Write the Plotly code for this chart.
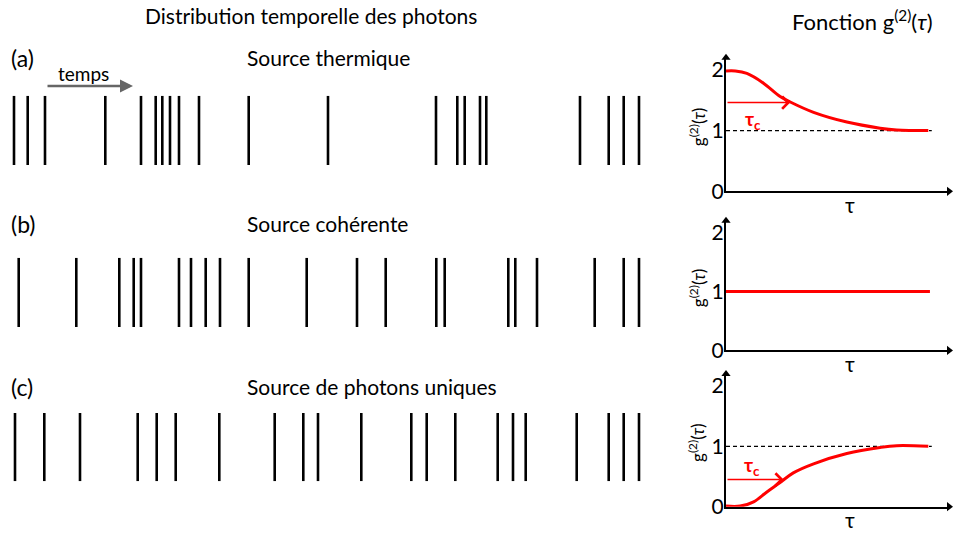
import plotly.graph_objects as go

W, H = 956, 544
FONT = "Lato"

# ---------------- data ----------------
# photon detection times (arbitrary units)
times_thermal = [1.40, 2.77, 4.50, 10.53, 14.10, 15.57, 16.23, 17.00, 17.90, 19.90, 24.87, 32.80,
                 43.60, 45.73, 46.47, 48.00, 48.63, 58.00, 60.87, 62.37, 63.90]
times_coherent = [1.87, 7.63, 11.93, 13.37, 14.10, 17.90, 19.10, 20.57, 22.00, 24.87, 30.67,
                  35.70, 38.57, 43.63, 44.47, 50.83, 51.53, 53.70, 59.47, 62.37, 63.90]
times_single = [1.50, 4.43, 8.00, 13.77, 15.67, 17.57, 21.93, 27.47, 30.33, 31.80, 36.13,
                41.13, 42.67, 45.53, 49.77, 51.30, 52.57, 57.67, 60.87, 62.37, 63.90]

# g2(tau) curves
tau_thermal = [0, 0.46, 1.03, 1.85, 2.67, 3.17, 4.32, 5.96, 7.60, 8.42, 9.98]
g2_thermal = [1.98, 1.98, 1.94, 1.78, 1.56, 1.47, 1.30, 1.14, 1.04, 1.01, 1.00]
tau_coherent = [0, 10.06]
g2_coherent = [1.0, 1.0]
tau_single = [0, 0.70, 1.36, 2.00, 2.67, 3.32, 4.32, 5.96, 7.60, 8.42, 9.98]
g2_single = [0.01, 0.01, 0.08, 0.24, 0.40, 0.56, 0.71, 0.88, 0.98, 1.01, 1.00]
tau_ref = [0, 10.15]
g2_ref = [1.0, 1.0]
tau_c_thermal = (3.17, 1.46)
tau_c_single = (2.84, 0.45)

row_labels = ["(a)", "(b)", "(c)"]
row_titles = ["Source thermique", "Source cohérente", "Source de photons uniques"]
g2_ticks = [0, 1, 2]

# ---------------- layout helpers ----------------
def px_x(p):
    return p / W

def px_y(p):
    return 1 - p / H

row_dom = [(96, 167), (262, 333), (421, 491)]
g2_dom = [(57, 194), (224, 357), (381, 517)]
g2_x = (726, 949)

fig = go.Figure()

# photon event rows
rows = [times_thermal, times_coherent, times_single]
for i, ts in enumerate(rows):
    xs, ys = [], []
    for t in ts:
        xs += [t, t, None]
        ys += [0, 1, None]
    fig.add_trace(go.Scatter(x=xs, y=ys, mode="lines", line=dict(color="black", width=2.6),
                             xaxis="x", yaxis="y" if i == 0 else f"y{i+1}", hoverinfo="skip",
                             showlegend=False))

layout = dict(
    width=W, height=H, margin=dict(l=0, r=0, t=0, b=0, pad=0),
    paper_bgcolor="white", plot_bgcolor="rgba(0,0,0,0)",
    font=dict(family=FONT, color="black"),
    showlegend=False,
    xaxis=dict(domain=[0, px_x(680)], range=[0, 68], visible=False, anchor="y"),
)
for i, (top, bot) in enumerate(row_dom):
    name = "yaxis" if i == 0 else f"yaxis{i+1}"
    layout[name] = dict(domain=[px_y(bot), px_y(top)], range=[0, 1], visible=False, anchor="x")

# g2 panels
curves = [(tau_thermal, g2_thermal, True), (tau_coherent, g2_coherent, False), (tau_single, g2_single, True)]
for i, ((top, bot), (tx, gy, dashed)) in enumerate(zip(g2_dom, curves)):
    xa = f"x{i+2}"
    ya = f"y{i+4}"
    layout[f"xaxis{i+2}"] = dict(domain=[px_x(g2_x[0]), px_x(g2_x[1])], range=[0, 11], anchor=ya,
                                 showline=True, linecolor="black", linewidth=2, showgrid=False,
                                 zeroline=False, showticklabels=False, ticks="")
    layout[f"yaxis{i+4}"] = dict(domain=[px_y(bot), px_y(top)], range=[0, 2.2], anchor=xa,
                                 showline=True, linecolor="black", linewidth=2, showgrid=False,
                                 zeroline=False, tickvals=g2_ticks, ticktext=[str(v) for v in g2_ticks],
                                 ticks="", tickfont=dict(size=21, family=FONT),
                                 ticklabelstandoff=-4)
    if dashed:
        fig.add_trace(go.Scatter(x=tau_ref, y=g2_ref, mode="lines",
                                 line=dict(color="black", width=1.2, dash="4px,3px"),
                                 xaxis=xa, yaxis=ya, hoverinfo="skip"))
    fig.add_trace(go.Scatter(x=tx, y=gy, mode="lines", line=dict(color="#ff0000", width=3, shape="spline"),
                             xaxis=xa, yaxis=ya, hoverinfo="skip"))
    # arrow heads of axes
    fig.add_trace(go.Scatter(x=[0], y=[2.2], mode="markers", cliponaxis=False,
                             marker=dict(symbol="triangle-up", size=8, color="black"),
                             xaxis=xa, yaxis=ya, hoverinfo="skip"))
    fig.add_trace(go.Scatter(x=[11], y=[0], mode="markers", cliponaxis=False,
                             marker=dict(symbol="triangle-right", size=8, color="black"),
                             xaxis=xa, yaxis=ya, hoverinfo="skip"))

def txt(text, x, y, size, xanchor="center", **kw):
    return dict(text=text, x=x, y=y, xref="paper", yref="paper", xanchor=xanchor,
                yanchor="middle", showarrow=False, font=dict(size=size), **kw)

annotations = []
# titles
annotations.append(txt("Distribution temporelle des photons", px_x(311), px_y(14), 21))
annotations.append(txt("Fonction g<sup>(2)</sup>(<i>τ</i>)", px_x(862), px_y(19), 22))
label_y = [57, 227, 394]
for lab, tit, yy in zip(row_labels, row_titles, label_y):
    annotations.append(txt(lab, px_x(9), px_y(yy), 23, xanchor="left"))
    annotations.append(txt(tit, px_x(245), px_y(yy), 21, xanchor="left"))
# time arrow
annotations.append(txt("temps", px_x(56), px_y(73), 19, xanchor="left"))
annotations.append(dict(x=px_x(133), y=px_y(86), ax=-87, ay=0, xref="paper", yref="paper",
                        text="", showarrow=True, arrowhead=2, arrowsize=1, arrowwidth=2.6,
                        arrowcolor="#666666"))
# g2 axis labels
for i, (top, bot) in enumerate(g2_dom):
    xa = f"x{i+2}"
    ya = f"y{i+4}"
    annotations.append(dict(text="τ", x=6.1, y=0, xref=xa, yref=ya, yshift=-13, showarrow=False,
                            xanchor="center", yanchor="middle", font=dict(size=21)))
    annotations.append(dict(text="g<sup>(2)</sup>(<i>τ</i>)", x=px_x(697), y=px_y(bot - 0.48 * (bot - top)),
                            xref="paper", yref="paper", textangle=-90, showarrow=False,
                            xanchor="center", yanchor="middle", font=dict(size=17)))
# tau_c arrows and labels
for (tc, lv), xa, ya, lab_pos in [(tau_c_thermal, "x2", "y4", (1.31, 1.18)),
                                  (tau_c_single, "x4", "y6", (1.28, 0.68))]:
    annotations.append(dict(x=tc, y=lv, ax=0, ay=lv, xref=xa, yref=ya, axref=xa, ayref=ya,
                            text="", showarrow=True, arrowhead=4, arrowsize=1.6, arrowwidth=1.5,
                            arrowcolor="#ff0000"))
    annotations.append(dict(text="<b>τ<sub>c</sub></b>", x=lab_pos[0], y=lab_pos[1], xref=xa, yref=ya,
                            xanchor="center", yanchor="middle",
                            showarrow=False, font=dict(size=19, color="#ff0000")))

layout["annotations"] = annotations
fig.update_layout(**layout)
fig.write_html("out.html", config={"displayModeBar": False},
               post_script="document.body.style.margin='0px';")
